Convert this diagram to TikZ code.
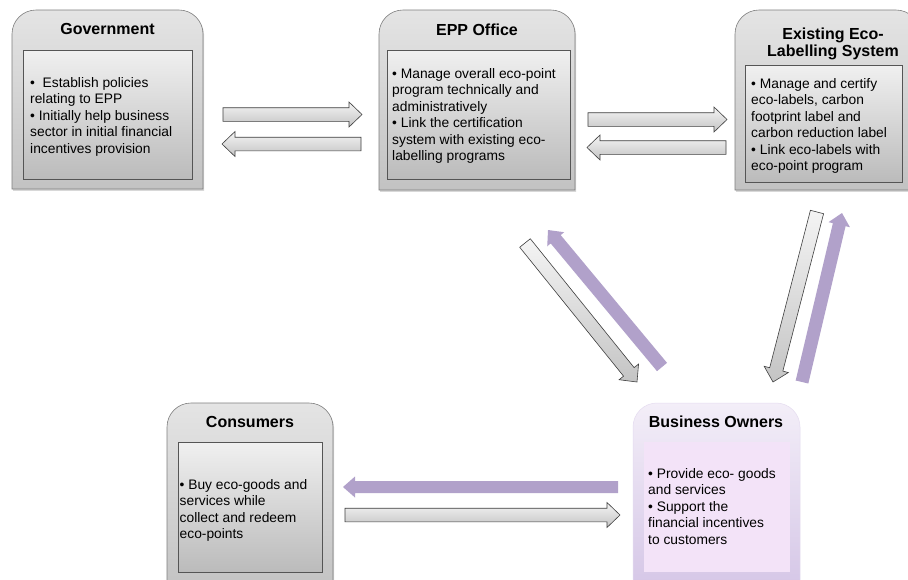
\documentclass[tikz,border=0pt]{standalone}
\usepackage{fontspec}
\setmainfont{Liberation Sans}
\usetikzlibrary{calc,shadows}

\definecolor{boxtop}{HTML}{E4E4E4}
\definecolor{boxbot}{HTML}{C2C2C2}
\definecolor{intop}{HTML}{F0F0F0}
\definecolor{inbot}{HTML}{BBBBBB}
\definecolor{boxedge}{HTML}{7F7F7F}
\definecolor{inedge}{HTML}{555555}
\definecolor{lilac}{HTML}{B1A1CA}
\definecolor{bztop}{HTML}{F3EEF8}
\definecolor{bzbot}{HTML}{D4C5E6}
\definecolor{bzin}{HTML}{F3E3F8}
\definecolor{arrtop}{HTML}{F4F4F4}
\definecolor{arrbot}{HTML}{C4C4C4}
\definecolor{arredge}{HTML}{3F3F3F}

\tikzset{
  outerbox/.style={draw=boxedge, line width=0.6pt, top color=boxtop, bottom color=boxbot,
    drop shadow={shadow xshift=1.2pt, shadow yshift=-1.8pt, opacity=0.3}},
  innerbox/.style={draw=inedge, line width=0.8pt, top color=intop, bottom color=inbot,
    drop shadow={shadow xshift=1pt, shadow yshift=-1.2pt, opacity=0.25}},
  bizouter/.style={draw=bzbot!60!white, line width=0.5pt, top color=bztop, bottom color=bzbot},
  bizinner/.style={fill=bzin},
  greyarrow/.style={draw=arredge, line width=0.6pt, top color=arrtop, bottom color=arrbot},
  lilacarrow/.style={fill=lilac},
  boxtitle/.style={font=\fontsize{16}{17}\selectfont\bfseries, align=center, inner sep=0pt},
  boxtext/.style={font=\fontsize{13.8}{16.5}\selectfont, align=left, anchor=north west, inner sep=0pt}
}

% panel with rounded top corners and square bottom corners
\newcommand{\tabpanel}[5]{%
  \path[#1] (#2,#5) -- (#2,#3+24) arc (180:270:24) -- (#4-24,#3) arc (270:360:24) -- (#4,#5) -- cycle;
}

% block arrow: style, from, to, shaft half width, head half width, head length (pt)
\newcommand{\blockarrow}[6]{%
  \path[#1] let \p1=(#2), \p2=(#3), \n1={atan2(\y2-\y1,\x2-\x1)}, \n2={veclen(\x2-\x1,\y2-\y1)} in
    [shift={(\p1)}, rotate=\n1]
    (0pt,-#4pt) -- ({\n2*1pt-#6pt},-#4pt) -- ({\n2*1pt-#6pt},-#5pt) -- ({\n2*1pt},0pt)
    -- ({\n2*1pt-#6pt},#5pt) -- ({\n2*1pt-#6pt},#4pt) -- (0pt,#4pt) -- cycle;
}

\begin{document}
\begin{tikzpicture}[x=1pt, y=-1pt]
\clip (0,0) rectangle (908,579);
\fill[white] (0,0) rectangle (908,579);

% Government
\tabpanel{outerbox}{12}{10}{203}{189}
\path[innerbox] (23,50) rectangle (192,179);
\node[boxtitle] (govtitle) at (107.5,29) {Government};
\node[boxtext] (govtext) at (30,77) {•\ \ Establish policies\\relating to EPP\\• Initially help business\\sector in initial financial\\incentives provision};

% EPP Office
\tabpanel{outerbox}{379}{10}{575}{190}
\path[innerbox] (387,50) rectangle (570,179);
\node[boxtitle] (epptitle) at (477,30) {EPP Office};
\node[boxtext] (epptext) at (392,68) {• Manage overall eco-point\\program technically and\\administratively\\• Link the certification\\system with existing eco-\\labelling programs};

% Existing eco-labelling system
\tabpanel{outerbox}{735}{10}{920}{190}
\path[innerbox] (745,65) rectangle (902,182);
\node[boxtitle] (ecotitle) at (833,43.5) {Existing Eco-\\Labelling System};
\node[boxtext] (ecotext) at (751,78) {• Manage and certify\\eco-labels, carbon\\footprint label and\\carbon reduction label\\• Link eco-labels with\\eco-point program};

% Consumers
\tabpanel{outerbox}{167}{403}{333}{595}
\path[innerbox] (178,442) rectangle (322,572);
\node[boxtitle] (contitle) at (250,422) {Consumers};
\node[boxtext] (context) at (179.5,479) {• Buy eco-goods and\\services while\\collect and redeem\\eco-points};

% Business owners
\tabpanel{bizouter}{633}{403}{800}{595}
\path[bizinner] (644,442) rectangle (790,572);
\node[boxtitle] (biztitle) at (716,422) {Business Owners};
\node[boxtext] (biztext) at (648,468) {• Provide eco- goods\\and services\\• Support the\\financial incentives\\to customers};

% arrow end points
\coordinate (ge1) at (223,114.5);  \coordinate (ge2) at (362,114.5);
\coordinate (eg1) at (361,144);    \coordinate (eg2) at (222,144);
\coordinate (ex1) at (588,119.5);  \coordinate (ex2) at (727,119.5);
\coordinate (xe1) at (726,147.5);  \coordinate (xe2) at (587,147.5);
\coordinate (eb1) at (525,243);    \coordinate (eb2) at (637,382);
\coordinate (be1) at (662,367);    \coordinate (be2) at (548,230);
\coordinate (xb1) at (817,212);    \coordinate (xb2) at (773,382);
\coordinate (bx1) at (802,382);    \coordinate (bx2) at (842,213);
\coordinate (bc1) at (618,487);    \coordinate (bc2) at (343,487);
\coordinate (cb1) at (345,515);    \coordinate (cb2) at (620,515);

\blockarrow{greyarrow}{ge1}{ge2}{6.8}{12.5}{13}
\blockarrow{greyarrow}{eg1}{eg2}{6.8}{12.5}{13}
\blockarrow{greyarrow}{ex1}{ex2}{6.8}{12.5}{13}
\blockarrow{greyarrow}{xe1}{xe2}{6.8}{12.5}{13}
\blockarrow{greyarrow}{eb1}{eb2}{6.8}{12.5}{13}
\blockarrow{lilacarrow}{be1}{be2}{6.5}{11}{12}
\blockarrow{greyarrow}{xb1}{xb2}{6.8}{12.5}{13}
\blockarrow{lilacarrow}{bx1}{bx2}{6.5}{11}{12}
\blockarrow{lilacarrow}{bc1}{bc2}{6}{10.5}{12}
\blockarrow{greyarrow}{cb1}{cb2}{6.8}{12.5}{13}
\end{tikzpicture}
\end{document}
